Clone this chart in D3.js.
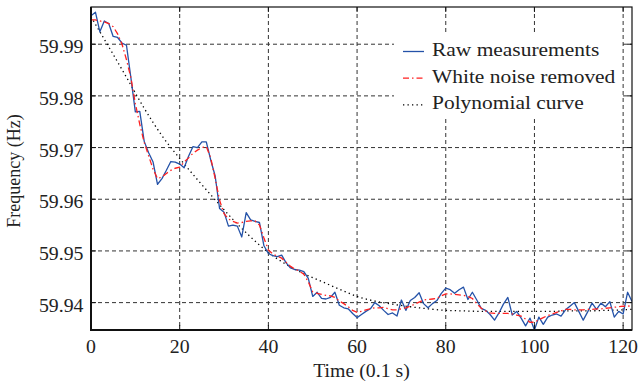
<!DOCTYPE html>
<html><head><meta charset="utf-8">
<script src="https://cdn.jsdelivr.net/npm/d3@7/dist/d3.min.js"></script>
<style>body{margin:0;background:#fff}svg{display:block}</style>
</head><body><svg id="c" width="639" height="387"></svg>
<script>
// time index (0.1 s)
const rawTime = d3.range(0, 123);
const rawFreq = [
59.9955,59.9962,59.9924,59.9945,59.9940,59.9915,59.9913,59.9902,59.9898,59.9835,
59.9769,59.9770,59.9712,59.9690,59.9672,59.9629,59.9640,59.9656,59.9673,59.9672,
59.9668,59.9661,59.9683,59.9702,59.9700,59.9711,59.9711,59.9676,59.9645,59.9582,
59.9575,59.9548,59.9550,59.9548,59.9527,59.9574,59.9560,59.9557,59.9555,59.9510,
59.9495,59.9491,59.9489,59.9492,59.9477,59.9467,59.9464,59.9463,59.9460,59.9447,
59.9412,59.9420,59.9408,59.9407,59.9410,59.9420,59.9395,59.9390,59.9388,59.9379,
59.9371,59.9377,59.9383,59.9388,59.9400,59.9394,59.9385,59.9377,59.9380,59.9374,
59.9405,59.9385,59.9404,59.9410,59.9419,59.9398,59.9390,59.9398,59.9404,59.9418,
59.9428,59.9425,59.9418,59.9425,59.9430,59.9406,59.9420,59.9405,59.9389,59.9385,
59.9377,59.9366,59.9380,59.9397,59.9410,59.9376,59.9383,59.9370,59.9355,59.9370,
59.9347,59.9372,59.9358,59.9372,59.9376,59.9378,59.9374,59.9386,59.9393,59.9400,
59.9383,59.9366,59.9382,59.9399,59.9387,59.9399,59.9392,59.9402,59.9372,59.9383,
59.9378,59.9420,59.9402];
const filtFreq = [
59.9947,59.9947,59.9945,59.9943,59.9940,59.9934,59.9920,59.9900,59.9870,59.9835,
59.9785,59.9745,59.9710,59.9684,59.9658,59.9640,59.9643,59.9650,59.9656,59.9660,
59.9662,59.9672,59.9680,59.9689,59.9695,59.9700,59.9702,59.9680,59.9640,59.9598,
59.9572,59.9562,59.9557,59.9554,59.9555,59.9557,59.9558,59.9558,59.9550,59.9525,
59.9502,59.9494,59.9490,59.9486,59.9478,59.9470,59.9465,59.9461,59.9455,59.9440,
59.9421,59.9418,59.9416,59.9414,59.9413,59.9410,59.9403,59.9398,59.9392,59.9385,
59.9381,59.9383,59.9386,59.9388,59.9390,59.9390,59.9391,59.9388,59.9386,59.9386,
59.9388,59.9390,59.9393,59.9397,59.9401,59.9405,59.9406,59.9407,59.9408,59.9413,
59.9417,59.9417,59.9416,59.9415,59.9414,59.9412,59.9408,59.9398,59.9389,59.9384,
59.9380,59.9379,59.9379,59.9379,59.9379,59.9378,59.9376,59.9374,59.9368,59.9362,
59.9362,59.9367,59.9371,59.9375,59.9378,59.9381,59.9384,59.9387,59.9387,59.9386,
59.9386,59.9386,59.9387,59.9387,59.9388,59.9388,59.9389,59.9390,59.9391,59.9392,
59.9393,59.9393,59.9394];
const polyTime = [0,4,8,12,16,20,24,28,32,36,40,44,48,52,56,60,64,68,72,76,80,84,88,92,96,100,104,108,112,116,120,122];
const polyFreq = [59.9953,59.9895,59.9836,59.9776,59.9723,59.9679,59.9638,59.9599,59.9561,59.9527,59.9497,59.9474,59.9456,59.9441,59.9426,59.9412,59.9403,59.9397,59.9392,59.9388,59.9385,59.9384,59.9383,59.9383,59.9383,59.9383,59.9383,59.9384,59.9384,59.9385,59.9386,59.9387];
const xTicks = [0,20,40,60,80,100,120];
const yTicks = [59.94,59.95,59.96,59.97,59.98,59.99];
const legendLabels = ["Raw measurements","White noise removed","Polynomial curve"];

const L=91,R=632,T=7,B=330;
const FONT='"Liberation Serif","Times New Roman",serif';
const svg=d3.select("#c");
const x=d3.scaleLinear().domain([0,122]).range([L,R]);
const y=d3.scaleLinear().domain([59.9347,59.9972]).range([B,T]);

function txt(px,py,s,anchor,rot,fs){
  const g=svg.append("g").attr("transform",`translate(${px},${py}) scale(1.1,1)`+(rot?` rotate(${rot})`:""));
  g.append("text").attr("font-family",FONT).attr("font-size",fs||18).attr("fill","#222")
    .attr("text-anchor",anchor).text(s);
}

// grid
const grid=svg.append("g").attr("stroke","#333").attr("stroke-width",1).attr("stroke-dasharray","4,3").attr("fill","none");
xTicks.filter(d=>d>0).forEach(d=>grid.append("line").attr("x1",x(d)).attr("x2",x(d)).attr("y1",T).attr("y2",B));
yTicks.forEach(d=>grid.append("line").attr("x1",L).attr("x2",R).attr("y1",y(d)).attr("y2",y(d)));

// series
svg.append("clipPath").attr("id","cp").append("rect").attr("x",L).attr("y",T).attr("width",R-L).attr("height",B-T);
const lineRaw=d3.line().x((d,i)=>x(rawTime[i])).y(d=>y(d));
svg.append("path").attr("clip-path","url(#cp)").attr("d",d3.line().x((d,i)=>x(polyTime[i])).y(d=>y(d)).curve(d3.curveMonotoneX)(polyFreq))
  .attr("fill","none").attr("stroke","#000").attr("stroke-width",1.3).attr("stroke-dasharray","1.3,3.2");
svg.append("path").attr("clip-path","url(#cp)").attr("d",lineRaw(rawFreq))
  .attr("fill","none").attr("stroke","#2452a8").attr("stroke-width",1.3).attr("stroke-linejoin","round");
svg.append("path").attr("clip-path","url(#cp)").attr("d",lineRaw(filtFreq))
  .attr("fill","none").attr("stroke","#ff2020").attr("stroke-width",1.3).attr("stroke-dasharray","6,3,1.5,3");

// legend
svg.append("rect").attr("x",394).attr("y",35).attr("width",226).attr("height",82).attr("fill","#fff");
const styles=[{c:"#2452a8",d:null},{c:"#ff2020",d:"6,3,1.5,3"},{c:"#000",d:"1.3,3.2"}];
legendLabels.forEach((s,i)=>{
  const by=56+i*26.7;
  const ln=svg.append("line").attr("x1",403).attr("x2",424).attr("y1",by-4.5).attr("y2",by-4.5)
    .attr("stroke",styles[i].c).attr("stroke-width",1.3);
  if(styles[i].d) ln.attr("stroke-dasharray",styles[i].d);
  txt(432,by,s,"start",0,19.5);
});

// axes frame and ticks
const ax=svg.append("g").attr("stroke","#111").attr("fill","none");
ax.append("rect").attr("x",L).attr("y",T).attr("width",R-L).attr("height",B-T).attr("stroke-width",1.2);
ax.append("line").attr("x1",L).attr("x2",L).attr("y1",T).attr("y2",B+1).attr("stroke-width",2);
ax.append("line").attr("x1",L-1).attr("x2",R).attr("y1",B).attr("y2",B).attr("stroke-width",2);
xTicks.forEach(d=>{
  ax.append("line").attr("x1",x(d)).attr("x2",x(d)).attr("y1",B).attr("y2",B-5);
  ax.append("line").attr("x1",x(d)).attr("x2",x(d)).attr("y1",T).attr("y2",T+5);
});
yTicks.forEach(d=>{
  ax.append("line").attr("x1",L).attr("x2",L+5).attr("y1",y(d)).attr("y2",y(d));
  ax.append("line").attr("x1",R).attr("x2",R-5).attr("y1",y(d)).attr("y2",y(d));
});

// tick labels
xTicks.forEach(d=>txt(x(d),353,String(d),"middle"));
yTicks.forEach(d=>txt(83.5,y(d)+9,d3.format(".2f")(d),"end"));
txt((L+R)/2,377,"Time (0.1 s)","middle",0,18);
txt(20,171,"Frequency (Hz)","middle",-90,18);
</script></body></html>
